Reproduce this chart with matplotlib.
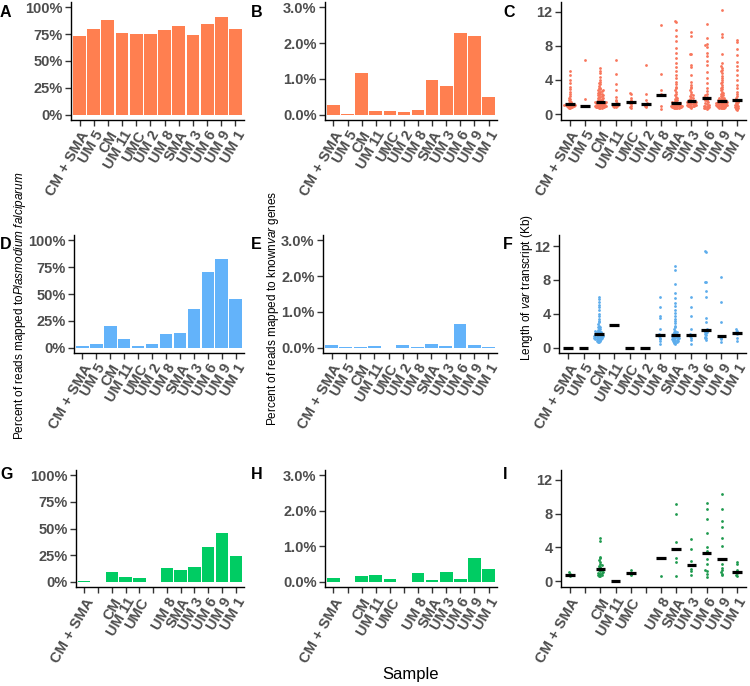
import numpy as np
import matplotlib
matplotlib.use('Agg')
import matplotlib.pyplot as plt

plt.rcParams['font.family'] = ['Liberation Sans', 'DejaVu Sans']
plt.rcParams['mathtext.fontset'] = 'custom'
plt.rcParams['mathtext.rm'] = 'Liberation Sans'
plt.rcParams['mathtext.it'] = 'Liberation Sans:italic'

# sample order on every x axis
samples = ['CM + SMA', 'UM 5', 'CM', 'UM 11', 'UMC', 'UM 2', 'UM 8', 'SMA',
           'UM 3', 'UM 6', 'UM 9', 'UM 1']
labels_row3 = ['CM + SMA', '', 'CM', 'UM 11', 'UMC', '', 'UM 8', 'SMA',
               'UM 3', 'UM 6', 'UM 9', 'UM 1']

# percent of reads mapped to P. falciparum
pf_top = [73.6, 80.1, 88.5, 76.4, 75.2, 75.5, 78.9, 82.9, 74.5, 84.5, 91.3, 80.1]
pf_mid = [1.6, 3.1, 20.2, 8.4, 1.6, 3.4, 12.8, 13.7, 35.8, 70.1, 82.2, 45.2]
pf_bot = [0.6, 0, 9.4, 4.4, 3.1, 0, 12.9, 10.7, 13.8, 32.9, 45.8, 23.8]

# percent of reads mapped to known var genes
var_top = [0.27, 0.02, 1.16, 0.11, 0.10, 0.085, 0.13, 0.96, 0.81, 2.27, 2.21, 0.48]
var_mid = [0.075, 0.03, 0.03, 0.05, 0, 0.075, 0.03, 0.10, 0.04, 0.67, 0.065, 0.03]
var_bot = [0.10, 0, 0.16, 0.18, 0.075, 0, 0.24, 0.056, 0.27, 0.075, 0.68, 0.36]

# length of var transcripts (Kb), one list per sample
len_top = [
    [5.1, 4.6, 4.0, 3.6, 3.2, 2.9, 2.6, 2.3, 2.1, 1.9, 1.8, 1.6, 1.5, 1.4, 1.3, 1.2,
     1.1, 1.1, 1.1, 1.0, 1.0, 1.0, 0.9, 0.9, 0.9, 0.9, 0.8, 0.8, 0.8, 0.7, 0.7],
    [6.3, 1.8, 1.0, 0.95, 0.9, 0.9],
    [5.4, 5.1, 4.8, 4.4, 4.0, 3.7, 3.6, 3.5, 3.3, 3.1, 3.0, 2.9, 2.8, 2.8, 2.7, 2.6,
     2.6, 2.5, 2.4, 2.4, 2.3, 2.2, 2.2, 2.1, 2.0, 2.0, 1.9, 1.9, 1.8, 1.7, 1.7, 1.6,
     1.6, 1.5, 1.5, 1.4, 1.4, 1.4, 1.3, 1.3, 1.3, 1.3, 1.2, 1.2, 1.2, 1.2, 1.2, 1.1,
     1.1, 1.1, 1.1, 1.1, 1.0, 1.0, 1.0, 1.0, 1.0, 1.0, 0.9, 0.9, 0.9, 0.9, 0.9, 0.9,
     0.8, 0.8, 0.8, 0.8, 0.8, 0.7, 0.7, 0.7],
    [6.3, 4.7, 3.5, 2.8, 2.0, 1.7, 1.5, 1.3, 1.2, 1.15, 1.1, 1.0, 1.0, 0.9, 0.9, 0.8, 0.8],
    [2.5, 2.3, 1.9, 1.6, 1.4, 1.35, 1.2, 1.0, 0.8, 0.7],
    [5.7, 2.3, 1.6, 1.3, 1.2, 1.2, 1.0, 0.9, 0.8],
    [10.4, 4.7, 2.8, 2.3, 2.2, 2.2, 1.0, 0.6],
    [10.9, 10.8, 9.9, 9.2, 8.6, 7.8, 7.2, 6.6, 6.0, 5.5, 5.0, 4.6, 4.2, 3.8, 3.5, 3.2,
     3.0, 2.8, 2.6, 2.4, 2.2, 2.0, 1.9, 1.8, 1.7, 1.6, 1.5, 1.45, 1.4, 1.35,
     1.3, 1.3, 1.25, 1.2, 1.2, 1.15, 1.1, 1.1, 1.1, 1.05, 1.0, 1.0, 1.0, 0.95, 0.95,
     0.9, 0.9, 0.9, 0.9, 0.85, 0.85, 0.8, 0.8, 0.8, 0.8, 0.75, 0.75, 0.7, 0.7, 0.7],
    [9.6, 9.2, 7.0, 7.0, 5.8, 5.5, 4.6, 3.7, 3.4, 3.2, 3.0, 2.8, 2.6, 2.4, 2.2, 2.1,
     2.0, 1.9, 1.8, 1.7, 1.6, 1.55, 1.5, 1.45, 1.4, 1.4, 1.35, 1.3, 1.3, 1.25, 1.2,
     1.2, 1.15, 1.1, 1.1, 1.05, 1.0, 1.0, 0.95, 0.9, 0.9, 0.85, 0.8, 0.75],
    [10.6, 8.9, 8.2, 8.1, 7.9, 7.2, 6.8, 6.2, 5.7, 4.9, 4.2, 3.6, 3.1, 2.7, 2.4, 2.2,
     2.0, 1.95, 1.9, 1.8, 1.7, 1.6, 1.5, 1.4, 1.3, 1.2, 1.1, 1.0, 0.95, 0.9, 0.85,
     0.8, 0.75, 0.7, 0.65, 0.6],
    [12.2, 9.4, 9.0, 7.0, 6.0, 5.6, 5.4, 5.2, 5.0, 4.8, 4.5, 4.2, 4.0, 3.8, 3.6, 3.4,
     3.2, 3.0, 2.9, 2.8, 2.6, 2.5, 2.4, 2.3, 2.2, 2.1, 2.0, 1.9, 1.85, 1.8, 1.75, 1.7,
     1.65, 1.6, 1.55, 1.5, 1.5, 1.45, 1.45, 1.4, 1.4, 1.35, 1.35, 1.3, 1.3, 1.25, 1.25,
     1.2, 1.2, 1.15, 1.15, 1.1, 1.1, 1.05, 1.05, 1.0, 1.0, 0.95, 0.95, 0.9, 0.9, 0.85,
     0.85, 0.8, 0.8, 0.75, 0.75, 0.7, 0.7, 0.65],
    [8.7, 8.4, 7.6, 6.9, 6.1, 5.6, 5.2, 4.6, 4.0, 3.4, 3.0, 2.6, 2.3, 2.1, 1.9, 1.7,
     1.6, 1.55, 1.5, 1.4, 1.3, 1.2, 1.1, 1.0, 0.95, 0.9, 0.8, 0.7, 0.65, 0.6, 0.55, 0.5],
]
len_mid = [
    [0.0], [0.0],
    [6.0, 5.7, 5.4, 5.1, 4.8, 4.4, 4.0, 3.7, 3.4, 3.2, 3.0, 2.8, 2.6, 2.5, 2.4, 2.3,
     2.2, 2.1, 2.0, 1.95, 1.9, 1.85, 1.8, 1.75, 1.7, 1.65, 1.6, 1.55, 1.5, 1.5, 1.45,
     1.4, 1.4, 1.35, 1.3, 1.3, 1.25, 1.2, 1.2, 1.15, 1.1, 1.1, 1.05, 1.0, 1.0, 0.95,
     0.9, 0.85, 0.8, 0.75, 0.7, 0.7],
    [2.7], [0.0], [0.0],
    [6.0, 4.8, 3.8, 3.5, 2.2, 1.6, 1.5, 1.4, 1.2, 1.0, 0.8, 0.5],
    [9.6, 9.2, 7.5, 6.4, 5.9, 5.3, 4.9, 4.5, 4.1, 3.8, 3.4, 3.1, 2.9, 2.6, 2.4, 2.2,
     2.0, 1.9, 1.8, 1.7, 1.6, 1.55, 1.5, 1.45, 1.4, 1.35, 1.3, 1.25, 1.2, 1.15, 1.1,
     1.05, 1.0, 1.0, 0.95, 0.9, 0.85, 0.8, 0.75, 0.7, 0.65, 0.6, 0.55, 0.5],
    [6.0, 4.8, 3.7, 2.2, 1.6, 1.5, 1.4, 1.2, 0.9, 0.5],
    [11.4, 11.3, 7.8, 7.7, 6.7, 6.0, 3.5, 3.0, 2.2, 2.1, 2.0, 1.9, 1.8, 1.7, 1.6, 1.5,
     1.3, 1.2, 1.1, 0.9],
    [8.4, 5.4, 3.0, 1.4, 1.3, 1.2, 1.0, 0.7],
    [2.2, 2.0, 1.8, 1.7, 1.6, 1.2, 0.8],
]
len_bot = [
    [1.1, 0.9, 0.8, 0.8, 0.7, 0.6],
    [],
    [5.1, 4.8, 2.9, 2.7, 2.5, 2.3, 2.1, 1.9, 1.8, 1.7, 1.6, 1.5, 1.4, 1.3, 1.2, 1.1,
     1.0, 0.95, 0.9, 0.85, 0.8, 0.7, 0.65, 0.6],
    [0.0],
    [1.3, 1.0, 0.9, 0.8],
    [],
    [2.75, 2.75, 0.65],
    [9.1, 8.0, 4.6, 3.8, 2.8, 2.3, 0.6],
    [5.0, 3.8, 2.4, 1.9, 1.5, 1.2, 0.8],
    [9.2, 8.5, 7.4, 5.7, 4.0, 3.6, 3.3, 2.6, 2.0, 1.4, 1.2, 0.9, 0.5],
    [10.3, 8.5, 7.1, 6.4, 5.1, 4.2, 2.6, 2.0, 1.6, 1.4, 1.1, 0.9, 0.8],
    [2.3, 2.0, 1.4, 1.1, 1.0, 0.8, 0.6],
]

W, H = 750, 686
fig = plt.figure(figsize=(W / 100, H / 100), dpi=100)

TXT = '#4D4D4D'


def add_ax(left, right, top, bottom):
    return fig.add_axes([left / W, 1 - bottom / H, (right - left) / W, (bottom - top) / H])


def style(ax, labels):
    for s in ['top', 'right']:
        ax.spines[s].set_visible(False)
    for s in ['left', 'bottom']:
        ax.spines[s].set_linewidth(1.0)
    ax.set_xlim(-0.6, 11.6)
    ax.set_xticks(np.arange(12))
    ax.set_xticklabels(labels, rotation=60, ha='right', rotation_mode='anchor',
                       fontsize=10.5, fontweight='bold', color=TXT)
    ax.tick_params(axis='both', length=4, width=1, color='#333333', pad=2)
    for t in ax.get_yticklabels():
        t.set_fontsize(10.5)
        t.set_fontweight('bold')
        t.set_color(TXT)


def bars(ax, vals, color, kind, labels):
    ax.bar(np.arange(12), vals, width=0.9, color=color)
    if kind == 'pf':
        ax.set_ylim(-5, 105)
        ax.set_yticks([0, 25, 50, 75, 100])
        ax.set_yticklabels(['0%', '25%', '50%', '75%', '100%'])
    else:
        ax.set_ylim(-0.15, 3.15)
        ax.set_yticks([0, 1, 2, 3])
        ax.set_yticklabels(['0.0%', '1.0%', '2.0%', '3.0%'])
    style(ax, labels)


def swarm(ax, groups, color, ylim, labels):
    for i, vals in enumerate(groups):
        if not vals:
            continue
        v = np.sort(np.array(vals, dtype=float))
        # simple beeswarm: spread points that share a height bin sideways
        bins = np.floor(v / 0.28)
        xs = np.zeros(len(v))
        for b in np.unique(bins):
            idx = np.where(bins == b)[0]
            for k, j in enumerate(idx):
                off = (((k + 1) // 2) * 0.075) % 0.42
                xs[j] = i + (off if k % 2 == 0 else -off)
        ax.scatter(xs, v, s=4, color=color, linewidths=0, zorder=2)
        ax.hlines(np.median(v), i - 0.32, i + 0.32, color='black', lw=2.3, zorder=3)
    ax.set_ylim(*ylim)
    ax.set_yticks([0, 4, 8, 12])
    style(ax, labels)


orange, blue, green = '#FF7F50', '#63B3FA', '#00CC63'

ax = add_ax(71, 244, 2, 120)
bars(ax, pf_top, orange, 'pf', samples)
ax = add_ax(325, 497, 2, 120)
bars(ax, var_top, orange, 'var', samples)
ax = add_ax(561, 746, 2, 120)
swarm(ax, len_top, '#F8765C', (-0.7, 13.14), samples)

ax = add_ax(74, 244, 235, 353)
bars(ax, pf_mid, blue, 'pf', samples)
ax = add_ax(323, 497, 235, 353)
bars(ax, var_mid, blue, 'var', samples)
ax = add_ax(559, 746, 235, 353)
swarm(ax, len_mid, '#5DADEC', (-0.62, 13.3), samples)

ax = add_ax(76, 244, 470, 587)
bars(ax, pf_bot, green, 'pf', labels_row3)
ax = add_ax(325, 497, 470, 587)
bars(ax, var_bot, green, 'var', labels_row3)
ax = add_ax(561, 746, 470, 587)
swarm(ax, len_bot, '#1E9A4E', (-0.66, 13.13), labels_row3)

# panel letters
for lab, x, y in [('A', 0, 5), ('B', 251, 5), ('C', 503, 5),
                  ('D', 0, 237), ('E', 251, 237), ('F', 503, 237),
                  ('G', 0, 467), ('H', 251, 467), ('I', 503, 467)]:
    fig.text(x / W, 1 - y / H, lab, ha='left', va='top', fontsize=11.5, fontweight='bold')

# axis titles
fig.text(20 / W, 1 - 306 / H, r'Percent of reads mapped to$\it{Plasmodium\ falciparum}$',
         rotation=90, ha='center', va='center', fontsize=8.5)
fig.text(273 / W, 1 - 308 / H, r'Percent of reads mapped to known$\it{var}$ genes',
         rotation=90, ha='center', va='center', fontsize=8.5)
fig.text(527 / W, 1 - 288 / H, r'Length of $\it{var}$ transcript (Kb)',
         rotation=90, ha='center', va='center', fontsize=8.5)
fig.text(411 / W, 1 - 675 / H, 'Sample', ha='center', va='center', fontsize=12)

fig.savefig('out.png', dpi=100)
